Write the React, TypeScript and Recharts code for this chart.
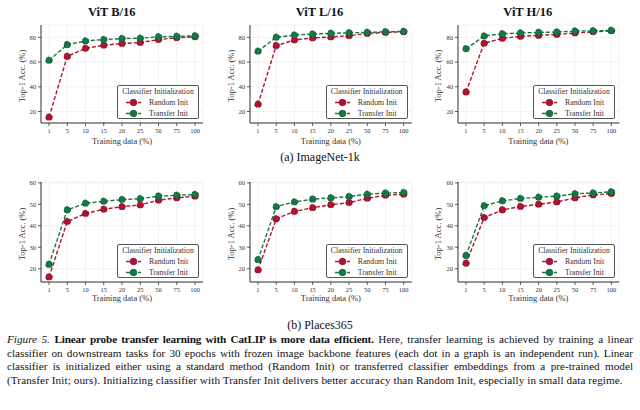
import { CartesianGrid, Line, LineChart, XAxis, YAxis } from "recharts";

const SERIF = '"Liberation Serif", "DejaVu Serif", serif';
const RED = "#b3122f";
const RED_EDGE = "#6e0a1c";
const GREEN = "#147a45";
const GREEN_EDGE = "#0b4a29";

const trainingData = ["1", "5", "10", "15", "20", "25", "50", "75", "100"];

// ImageNet-1k
const inB16Random = [15.4, 64.6, 71.1, 73.6, 75.0, 75.8, 78.2, 79.7, 80.4];
const inB16Transfer = [61.4, 74.1, 77.1, 78.2, 79.0, 79.3, 80.4, 80.9, 81.2];
const inL16Random = [25.9, 73.3, 77.9, 79.5, 80.3, 81.3, 83.2, 84.0, 84.5];
const inL16Transfer = [68.8, 80.0, 81.9, 82.7, 83.2, 83.7, 84.0, 84.5, 84.8];
const inH16Random = [35.7, 75.2, 79.2, 80.8, 81.6, 82.4, 83.5, 84.5, 85.3];
const inH16Transfer = [70.7, 81.1, 82.9, 83.5, 84.0, 84.3, 85.1, 85.3, 85.6];

// Places365
const plB16Random = [16.1, 42.0, 45.7, 47.7, 48.9, 49.7, 51.9, 53.0, 53.8];
const plB16Transfer = [22.0, 47.4, 50.5, 51.4, 52.2, 52.6, 53.8, 54.2, 54.6];
const plL16Random = [19.4, 43.2, 46.7, 48.4, 49.8, 50.8, 52.8, 54.2, 54.7];
const plL16Transfer = [24.2, 48.9, 51.1, 52.4, 53.0, 53.6, 54.7, 55.2, 55.5];
const plH16Random = [22.5, 43.8, 47.4, 49.0, 50.0, 51.1, 53.0, 54.4, 55.0];
const plH16Transfer = [26.1, 49.3, 51.6, 52.7, 53.3, 53.8, 54.9, 55.3, 55.8];

const imagenetTicks = [20, 40, 60, 80];
const placesTicks = [20, 30, 40, 50, 60];

const cols = [
  { left: 41, right: 203, titleX: 111.7, yLabelX: 21.7 },
  { left: 250, right: 411.7, titleX: 319.5, yLabelX: 230.7 },
  { left: 457.7, right: 619, titleX: 527.8, yLabelX: 438.3 },
];
const rowsGeom = [
  { top: 25, bottom: 123, xLabelY: 140.7, domain: [10.7, 90], ticks: imagenetTicks },
  { top: 182.3, bottom: 282.3, xLabelY: 298.3, domain: [13.8, 60.4], ticks: placesTicks },
];

const panels = [
  { row: 0, col: 0, title: "ViT B/16", random: inB16Random, transfer: inB16Transfer },
  { row: 0, col: 1, title: "ViT L/16", random: inL16Random, transfer: inL16Transfer },
  { row: 0, col: 2, title: "ViT H/16", random: inH16Random, transfer: inH16Transfer },
  { row: 1, col: 0, title: "", random: plB16Random, transfer: plB16Transfer },
  { row: 1, col: 1, title: "", random: plL16Random, transfer: plL16Transfer },
  { row: 1, col: 2, title: "", random: plH16Random, transfer: plH16Transfer },
];

const Abs = ({ x, y, children, style }: any) => (
  <div
    style={{
      position: "absolute",
      left: x,
      top: y,
      transform: "translate(-50%, -50%)",
      whiteSpace: "nowrap",
      fontFamily: SERIF,
      ...style,
    }}
  >
    {children}
  </div>
);

const LegendBox = ({ left, top }: { left: number; top: number }) => {
  const entry = (label: string, color: string, edge: string) => (
    <div style={{ display: "flex", alignItems: "center", height: 11 }}>
      <svg width={30} height={11} style={{ display: "block" }}>
        <line x1={8} x2={23} y1={5.5} y2={5.5} stroke={color} strokeWidth={1.4} strokeDasharray="4 2" />
        <circle cx={15.5} cy={5.5} r={3.3} fill={color} stroke={edge} strokeWidth={0.7} />
      </svg>
      <span style={{ marginLeft: 1 }}>{label}</span>
    </div>
  );
  return (
    <div
      style={{
        position: "absolute",
        left,
        top,
        width: 82,
        height: 34,
        boxSizing: "border-box",
        border: "1px solid #555",
        borderRadius: 2,
        background: "rgba(255,255,255,0.9)",
        fontFamily: SERIF,
        fontSize: 7.8,
        color: "#333",
        lineHeight: "11px",
      }}
    >
      <div style={{ textAlign: "center" }}>Classifier Initialization</div>
      {entry("Random Init", RED, RED_EDGE)}
      {entry("Transfer Init", GREEN, GREEN_EDGE)}
    </div>
  );
};

const Panel = ({ p }: { p: (typeof panels)[number] }) => {
  const c = cols[p.col];
  const r = rowsGeom[p.row];
  const yW = 25;
  const xH = 20;
  const width = yW + (c.right - c.left) + 5;
  const height = 5 + (r.bottom - r.top) + xH;
  const data = trainingData.map((x, i) => ({ x, random: p.random[i], transfer: p.transfer[i] }));
  const tickStyle = { fontSize: 6.5, fill: "#333", fontFamily: SERIF };
  return (
    <>
      <div style={{ position: "absolute", left: c.left - yW, top: r.top - 5 }}>
        <LineChart width={width} height={height} data={data} margin={{ top: 5, right: 5, left: 0, bottom: 0 }}>
          <CartesianGrid stroke="#ebebeb" strokeWidth={0.7} />
          <XAxis
            dataKey="x"
            height={xH}
            interval={0}
            padding={{ left: 8, right: 8 }}
            tickSize={3}
            tickMargin={2}
            axisLine={{ stroke: "#333", strokeWidth: 1 }}
            tickLine={{ stroke: "#333", strokeWidth: 0.8 }}
            tick={tickStyle}
          />
          <YAxis
            type="number"
            width={yW}
            domain={r.domain}
            ticks={r.ticks}
            allowDataOverflow
            tickSize={3}
            tickMargin={2}
            axisLine={{ stroke: "#333", strokeWidth: 1 }}
            tickLine={{ stroke: "#333", strokeWidth: 0.8 }}
            tick={tickStyle}
          />
          <Line
            dataKey="random"
            stroke={RED}
            strokeWidth={1.4}
            strokeDasharray="4 2"
            dot={{ r: 3.3, fill: RED, stroke: RED_EDGE, strokeWidth: 0.7 }}
            activeDot={false}
            isAnimationActive={false}
          />
          <Line
            dataKey="transfer"
            stroke={GREEN}
            strokeWidth={1.4}
            strokeDasharray="4 2"
            dot={{ r: 3.3, fill: GREEN, stroke: GREEN_EDGE, strokeWidth: 0.7 }}
            activeDot={false}
            isAnimationActive={false}
          />
        </LineChart>
      </div>
      {p.title && (
        <Abs x={c.titleX} y={12.3} style={{ fontSize: 12.5, fontWeight: 700, color: "#111" }}>
          {p.title}
        </Abs>
      )}
      <Abs x={(c.left + c.right) / 2} y={r.xLabelY} style={{ fontSize: 8.5, color: "#333" }}>
        Training data (%)
      </Abs>
      <Abs
        x={c.yLabelX}
        y={(r.top + r.bottom) / 2 + 2}
        style={{ fontSize: 8.5, color: "#333", transform: "translate(-50%, -50%) rotate(-90deg)" }}
      >
        Top-1 Acc. (%)
      </Abs>
      <LegendBox left={c.right - 4 - 82} top={r.bottom - 4 - 34} />
    </>
  );
};

const lineStyle: any = {
  position: "absolute",
  left: 7,
  width: 626,
  fontFamily: SERIF,
  fontSize: 11.2,
  lineHeight: "13.5px",
  color: "#111",
  textAlign: "justify",
  textAlignLast: "justify",
};

export default function App() {
  return (
    <div style={{ position: "absolute", left: 0, top: 0, width: 640, height: 410, background: "#fff", overflow: "hidden" }}>
      {panels.map((p, i) => (
        <Panel key={i} p={p} />
      ))}
      <Abs x={320} y={157} style={{ fontSize: 12, color: "#111" }}>
        (a) ImageNet-1k
      </Abs>
      <Abs x={320} y={325} style={{ fontSize: 12, color: "#111" }}>
        (b) Places365
      </Abs>
      <div style={{ ...lineStyle, top: 333 }}>
        <i>Figure 5.</i> <b style={{ letterSpacing: -0.15 }}>Linear probe transfer learning with CatLIP is more data efficient.</b>{" "}
        Here, transfer learning is achieved by training a linear
      </div>
      <div style={{ ...lineStyle, top: 346.5 }}>
        classifier on downstream tasks for 30 epochs with frozen image backbone features (each dot in a graph is an
        independent run). Linear
      </div>
      <div style={{ ...lineStyle, top: 360 }}>
        classifier is initialized either using a standard method (Random Init) or transferred classifier embeddings from
        a pre-trained model
      </div>
      <div
        style={{
          ...lineStyle,
          top: 373.5,
          textAlign: "left",
          textAlignLast: "left",
          whiteSpace: "nowrap",
          letterSpacing: 0.08,
        }}
      >
        (Transfer Init; ours). Initializing classifier with Transfer Init delivers better accuracy than Random Init,
        especially in small data regime.
      </div>
    </div>
  );
}
